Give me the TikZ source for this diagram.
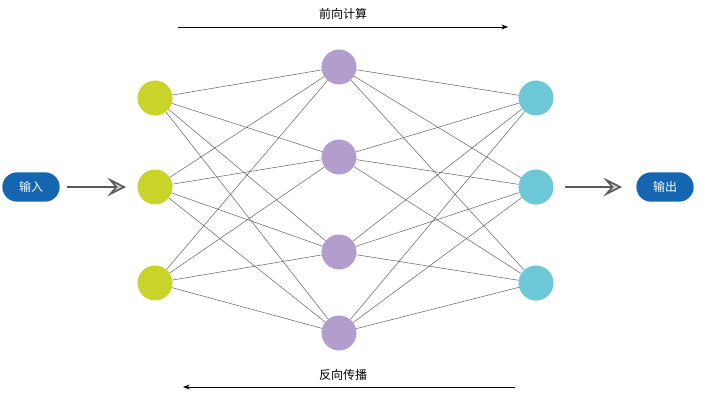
\documentclass[tikz,border=0pt]{standalone}
\usepackage{fontspec}
\newfontfamily\cjk{Noto Sans CJK SC}
\usetikzlibrary{arrows.meta}
\definecolor{inc}{HTML}{C8D42A}
\definecolor{hic}{HTML}{B39DCC}
\definecolor{outc}{HTML}{6CC8D6}
\definecolor{boxc}{HTML}{1565B0}
\begin{document}
\begin{tikzpicture}[x=0.75pt,y=-0.75pt,
  neuron/.style={circle,minimum size=26pt,inner sep=0pt},
  lab/.style={rounded corners=11pt,fill=boxc,text=white,minimum width=43pt,minimum height=22pt,font=\cjk\small},
  conn/.style={draw=gray!80!black,line width=0.4pt},
  bigarrow/.style={draw=gray!70!black,line width=1.2pt,-{Stealth[length=14pt,width=14pt,inset=6pt,fill=gray!40]}},
  flow/.style={draw=black,line width=0.5pt,-{Stealth[length=5pt]}}]
\useasboundingbox (0,0) rectangle (703,401);
\foreach \n/\y in {1/98,2/187,3/283}{
  \node[neuron,fill=inc] (i\n) at (155,\y) {};
  \node[neuron,fill=outc] (o\n) at (536,\y) {};}
\foreach \n/\y in {1/67,2/157,3/252,4/333}
  \node[neuron,fill=hic] (h\n) at (339,\y) {};
\begin{scope}[on background layer/.style={}]
\foreach \a in {1,2,3}\foreach \b in {1,2,3,4}{
  \draw[conn] (i\a) -- (h\b);
  \draw[conn] (h\b) -- (o\a);}
\end{scope}
\foreach \n/\y in {1/98,2/187,3/283}{
  \node[neuron,fill=inc] at (155,\y) {};
  \node[neuron,fill=outc] at (536,\y) {};}
\foreach \n/\y in {1/67,2/157,3/252,4/333}
  \node[neuron,fill=hic] at (339,\y) {};
\node[lab] (in) at (31,187) {输入};
\node[lab] (out) at (665,187) {输出};
\coordinate (a1) at (67,187); \coordinate (a2) at (126,187);
\coordinate (b1) at (565,187); \coordinate (b2) at (622,187);
\draw[bigarrow] (a1) -- (a2);
\draw[bigarrow] (b1) -- (b2);
\coordinate (t1) at (178,27); \coordinate (t2) at (508,27);
\coordinate (u1) at (515,387); \coordinate (u2) at (183,387);
\draw[flow] (t1) -- (t2);
\draw[flow] (u1) -- (u2);
\node[font=\cjk\small] (ft) at (343,14) {前向计算};
\node[font=\cjk\small] (bp) at (343,375) {反向传播};
\end{tikzpicture}
\end{document}
